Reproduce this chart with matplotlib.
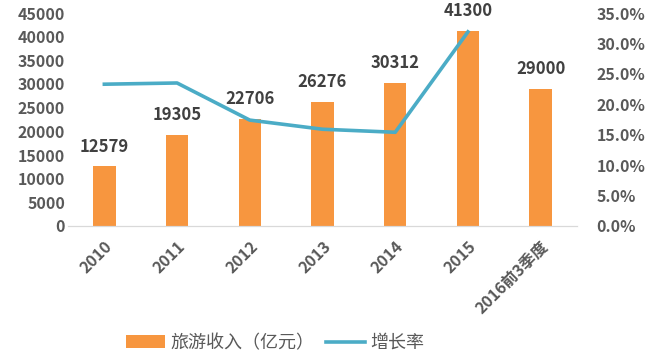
import matplotlib.pyplot as plt
from matplotlib.ticker import FuncFormatter

plt.rcParams['font.family'] = ['Noto Sans CJK SC', 'DejaVu Sans']

# 数据
years = ["2010", "2011", "2012", "2013", "2014", "2015", "2016前3季度"]
income = [12579, 19305, 22706, 26276, 30312, 41300, 29000]
growth = [23.3, 23.5, 17.4, 15.9, 15.4, 31.9]  # 百分比, 2016 无

bar_color = "#F7963F"
line_color = "#4BACC6"
text_color = "#595959"

fig = plt.figure(figsize=(6.49, 3.55), dpi=100)
ax = fig.add_axes([68 / 649, 1 - 226 / 355, 509 / 649, 213 / 355])
ax2 = ax.twinx()

x = list(range(len(years)))
ax.bar(x, income, width=0.31, color=bar_color, label="旅游收入（亿元）", zorder=2)
for xi, v in zip(x, income):
    ax.text(xi, v + 2300, str(v), ha="center", va="bottom", fontsize=12,
            fontweight="bold", color="#404040")

ax2.plot(x[:len(growth)], growth, color=line_color, lw=2.6, label="增长率", zorder=3)

ax.set_xlim(-0.5, len(years) - 0.5)
ax.set_ylim(0, 45000)
ax.set_yticks(range(0, 45001, 5000))
ax2.set_ylim(0, 35)
ax2.set_yticks(range(0, 36, 5))
ax2.yaxis.set_major_formatter(FuncFormatter(lambda v, p: f"{v:.1f}%"))

ax.set_xticks(x)
ax.set_xticklabels(years, rotation=45, ha="right", rotation_mode="anchor")

for a in (ax, ax2):
    for s in ("left", "right", "top"):
        a.spines[s].set_visible(False)
    a.spines["bottom"].set_color("#d9d9d9")
    a.tick_params(length=0, labelsize=11.5, labelcolor=text_color)
    for lab in a.get_yticklabels() + a.get_xticklabels():
        lab.set_fontweight("bold")
ax.tick_params(axis="x", pad=9)
ax.tick_params(axis="y", pad=2)
ax2.tick_params(axis="y", pad=14)

h1, l1 = ax.get_legend_handles_labels()
h2, l2 = ax2.get_legend_handles_labels()
fig.legend(h1 + h2, l1 + l2, loc="center", bbox_to_anchor=(0.424, 0.034), ncol=2,
           frameon=False, fontsize=13, handlelength=2.2, handletextpad=0.3,
           columnspacing=0.6, labelcolor=text_color)

fig.savefig("out.png", dpi=100)
